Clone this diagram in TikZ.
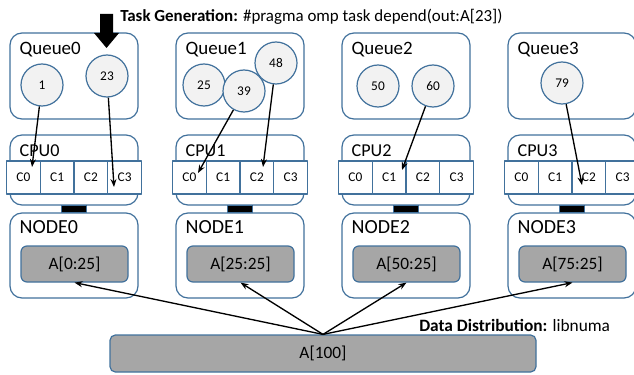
\documentclass[tikz,border=0pt]{standalone}
\usepackage{fontspec}
\setmainfont{Carlito}
\usetikzlibrary{arrows.meta}
\definecolor{boxblue}{RGB}{65,113,156}
\definecolor{taskgray}{RGB}{242,242,242}
\definecolor{datagray}{RGB}{166,166,166}
\begin{document}
\begin{tikzpicture}[x=0.75pt,y=-0.75pt,line join=round,>={Stealth[length=6pt,width=4.5pt]},
  outer/.style={draw=boxblue,line width=0.9pt,rounded corners=9pt,fill=white,minimum width=96pt,inner sep=0pt},
  core/.style={draw=boxblue,line width=0.9pt,fill=white,minimum width=25.3pt,minimum height=24.75pt,inner sep=0pt,font=\fontsize{10}{12}\selectfont},
  task/.style={circle,draw=boxblue,line width=0.9pt,fill=taskgray,minimum size=31.5pt,inner sep=0pt,font=\fontsize{10}{12}\selectfont},
  data/.style={draw=boxblue,line width=0.9pt,fill=datagray,rounded corners=4.5pt,inner sep=0pt,font=\fontsize{13}{15}\selectfont},
  lbl/.style={anchor=west,inner sep=0pt,font=\fontsize{#1}{16}\selectfont},
  note/.style={anchor=west,inner sep=0pt,font=\fontsize{#1}{15}\selectfont},
  link/.style={fill=black,draw=boxblue,line width=0.6pt,minimum width=18.75pt,minimum height=5.25pt,inner sep=0pt},
  hop/.style={->,line width=1pt}]
\useasboundingbox (0,0) rectangle (634,374);
% queue, cpu and memory node of each socket
\foreach \i/\s in {0/0,1/25,2/50,3/75}{
  \pgfmathsetmacro{\cx}{74+166*\i}
  \node[outer,minimum height=64.5pt] (queue\i) at (\cx,76) {};
  \node[lbl=14.2] at ([shift={(10,17)}]queue\i.north west) {Queue\i};
  \node[outer,minimum height=52.5pt] (cpu\i) at (\cx,170) {};
  \node[lbl=13.6] at ([shift={(10,16)}]cpu\i.north west) {CPU\i};
  \foreach \j in {0,...,3}
    \node[core] (c\i\j) at (\cx-50.6+33.75*\j,177.5) {C\j};
  \node[link] (bus\i) at (\cx,208.5) {};
  \node[outer,minimum height=63.75pt] (mem\i) at (\cx,255.5) {};
  \node[lbl=15] at ([shift={(10,15)}]mem\i.north west) {NODE\i};
  \node[data,minimum width=80.25pt,minimum height=27pt] (part\i) at (\cx+0.5,264) {A[\s:25]};
}
% tasks
\foreach \n/\x/\y in {1/42/85,23/107/76,25/204/85,39/244/91,48/276/63,50/378/86,60/433/86,79/562/83}
  \node[task] (t\n) at (\x,\y) {\n};
\node[data,rounded corners=4pt,minimum width=319.5pt,minimum height=27.75pt] (whole) at (323,353.5) {A[100]};
% task to core
\foreach \n/\x/\y in {1/32/167,23/114/187,39/198/173,48/263/167,60/402/170,79/582/185}{
  \coordinate (hit\n) at (\x,\y);
  \draw[hop] (t\n) -- (hit\n);
}
% distribution
\foreach \i in {0,...,3}
  \draw[hop] (whole.north) -- (part\i.south);
\fill (100,14) -- (113,14) -- (113,33) -- (119,33) -- (106.5,48) -- (94,33) -- (100,33) -- cycle;
\node[note=12.7] (gen) at (120,17) {\textbf{Task Generation:} \#pragma omp task depend(out:A[23])};
\node[note=13] (dist) at (419,325) {\textbf{Data Distribution:} libnuma};
\end{tikzpicture}
\end{document}
